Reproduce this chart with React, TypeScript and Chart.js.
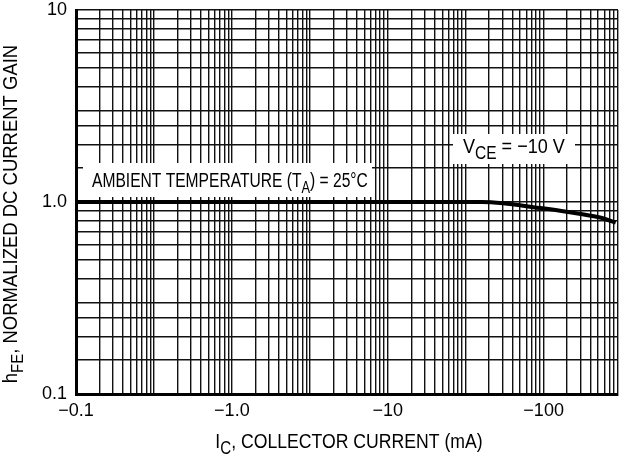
import React, { useEffect, useRef } from 'react';
import { Chart, registerables } from 'chart.js';

Chart.register(...registerables);

// ---- data ----
const collectorCurrentMA = [0.1, 1, 10, 40, 55, 86, 140, 230, 290];
const normalizedGain = [1.0, 1.0, 1.0, 1.0, 0.985, 0.94, 0.89, 0.83, 0.78];

// graph paper: two log cycles per labelled decade on the x axis
const xCycleStarts = [0.1, 0.3162, 1, 3.162, 10, 31.62, 100];
const xCycleSteps = [1, 1.414, 1.732, 2, 2.236, 2.449, 2.646, 2.828, 3];
const xTickValues = [0.1, 1, 10, 100];
const xTickLabels = ['\u22120.1', '\u22121.0', '\u221210', '\u2212100'];

const yGridValues = [
  0.1, 0.15, 0.2, 0.25, 0.3, 0.4, 0.5, 0.6, 0.7, 0.8, 0.9,
  1, 1.5, 2, 2.5, 3, 4, 5, 6, 7, 8, 9, 10,
];
const yTickValues = [0.1, 1, 10];
const yTickLabels = ['0.1', '1.0', '10'];

const FAMILY = '"Liberation Sans", Arial, sans-serif';

type Part = { t: string; sub?: boolean };

function drawRich(
  ctx: CanvasRenderingContext2D,
  parts: Part[],
  x: number,
  y: number,
  size: number,
  subSize: number,
  center: boolean,
  sx: number,
) {
  const widths = parts.map((p) => {
    ctx.font = `${p.sub ? subSize : size}px ${FAMILY}`;
    return ctx.measureText(p.t).width;
  });
  const total = widths.reduce((a, b) => a + b, 0);
  ctx.save();
  ctx.translate(x, y);
  ctx.scale(sx, 1);
  let cx = center ? -total / 2 : 0;
  parts.forEach((p, i) => {
    ctx.font = `${p.sub ? subSize : size}px ${FAMILY}`;
    ctx.fillText(p.t, cx, p.sub ? 6 : 0);
    cx += widths[i];
  });
  ctx.restore();
}

const textPlugin = {
  id: 'textPlugin',
  beforeDatasetsDraw(chart: any) {
    const ctx: CanvasRenderingContext2D = chart.ctx;
    ctx.save();
    ctx.fillStyle = '#fff';
    ctx.fillRect(83, 163, 289, 34);
    ctx.fillRect(453, 134, 122, 30);
    ctx.fillStyle = '#000';
    ctx.textBaseline = 'alphabetic';
    ctx.textAlign = 'left';
    drawRich(ctx, [{ t: 'AMBIENT TEMPERATURE (T' }, { t: 'A', sub: true }, { t: ') = 25\u00B0C' }], 92, 187, 19.5, 16, false, 0.8);
    drawRich(ctx, [{ t: 'V' }, { t: 'CE', sub: true }, { t: ' = \u221210 V' }], 463, 153, 21, 18, false, 0.86);
    ctx.restore();
  },
  afterDraw(chart: any) {
    const ctx: CanvasRenderingContext2D = chart.ctx;
    ctx.save();
    ctx.fillStyle = '#000';
    ctx.textBaseline = 'alphabetic';
    ctx.textAlign = 'left';
    drawRich(ctx, [{ t: 'I' }, { t: 'C', sub: true }, { t: ', COLLECTOR CURRENT (mA)' }], 349, 448, 21, 18, true, 0.84);
    ctx.translate(17, 214);
    ctx.rotate(-Math.PI / 2);
    drawRich(ctx, [{ t: 'h' }, { t: 'FE', sub: true }, { t: ', NORMALIZED DC CURRENT GAIN' }], 0, 0, 21, 17, true, 0.88);
    ctx.restore();
  },
};

function labelFor(values: number[], labels: string[], v: number) {
  const i = values.findIndex((t) => Math.abs(t - v) / t < 1e-6);
  return i >= 0 ? labels[i] : '';
}

export default function App() {
  const ref = useRef<HTMLCanvasElement | null>(null);
  useEffect(() => {
    if (!ref.current) return;
    const xGrid: number[] = [];
    xCycleStarts.forEach((b) =>
      xCycleSteps.forEach((s) => {
        const v = b * s;
        if (v <= 300.01) xGrid.push(v);
      }),
    );
    const chart = new Chart(ref.current, {
      type: 'line',
      data: {
        datasets: [
          {
            data: collectorCurrentMA.map((x, i) => ({ x, y: normalizedGain[i] })),
            borderColor: '#000',
            borderWidth: 4,
            pointRadius: 0,
            cubicInterpolationMode: 'monotone',
            fill: false,
          },
        ],
      },
      options: {
        responsive: false,
        animation: false,
        devicePixelRatio: 1,
        layout: { padding: { top: 10, right: 1, left: 0, bottom: 0 } },
        plugins: { legend: { display: false }, tooltip: { enabled: false } },
        scales: {
          x: {
            type: 'logarithmic',
            min: 0.1,
            max: 300,
            afterBuildTicks: (s: any) => {
              s.ticks = xGrid.map((v) => ({ value: v }));
            },
            afterFit: (s: any) => {
              s.height = 67;
              s.paddingLeft = 0;
              s.paddingRight = 0;
            },
            ticks: {
              autoSkip: false,
              maxRotation: 0,
              minRotation: 0,
              padding: 6,
              color: '#000',
              font: { family: FAMILY, size: 18 },
              callback: (v: any) => labelFor(xTickValues, xTickLabels, Number(v)),
            },
            grid: { color: '#111', lineWidth: 1.4, drawTicks: false },
            border: { display: true, color: '#000', width: 3 },
          },
          y: {
            type: 'logarithmic',
            min: 0.1,
            max: 10,
            afterBuildTicks: (s: any) => {
              s.ticks = yGridValues.map((v) => ({ value: v }));
            },
            afterFit: (s: any) => {
              s.width = 76;
              s.paddingTop = 0;
              s.paddingBottom = 0;
            },
            ticks: {
              autoSkip: false,
              padding: 9,
              color: '#000',
              font: { family: FAMILY, size: 18 },
              callback: (v: any) => labelFor(yTickValues, yTickLabels, Number(v)),
            },
            grid: { color: '#111', lineWidth: 1.4, drawTicks: false },
            border: { display: true, color: '#000', width: 3 },
          },
        },
      } as any,
      plugins: [textPlugin],
    });
    return () => chart.destroy();
  }, []);
  return (
    <div style={{ position: 'absolute', left: 0, top: 0, width: 619, height: 461, background: '#fff' }}>
      <canvas ref={ref} width={619} height={461} style={{ width: 619, height: 461, display: 'block' }} />
    </div>
  );
}
